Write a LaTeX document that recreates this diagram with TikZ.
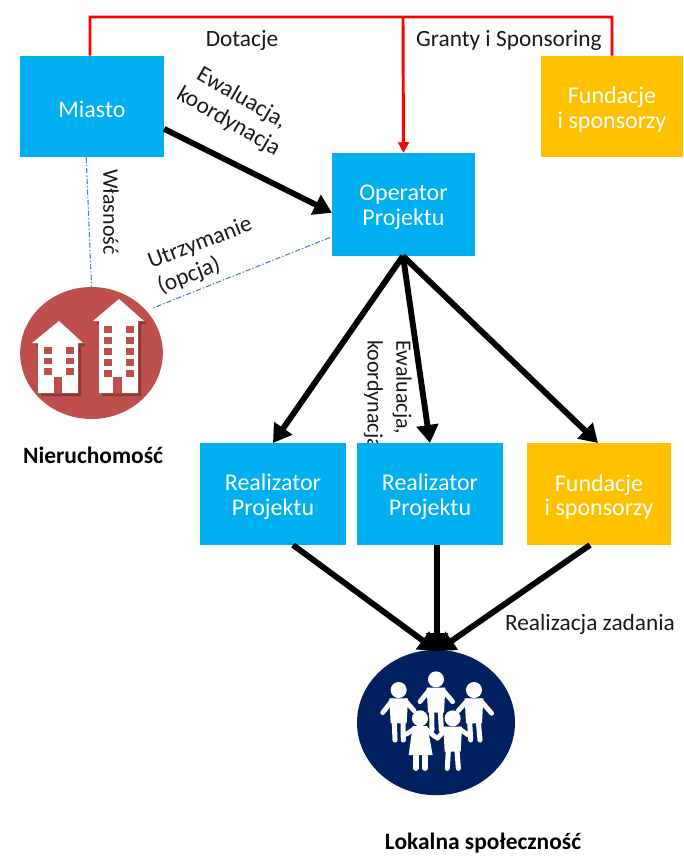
\documentclass[tikz,border=0pt]{standalone}
\usepackage{fontspec}
\setmainfont{Carlito}
\usetikzlibrary{arrows.meta,calc,shapes.geometric}
\definecolor{cblue}{HTML}{00B0F0}
\definecolor{cgold}{HTML}{FFC000}
\definecolor{cred}{HTML}{BE4F4C}
\definecolor{cshadow}{HTML}{8E3734}
\definecolor{cnavy}{HTML}{002060}
\definecolor{cdash}{HTML}{4A7EBB}
\tikzset{
  x=0.75pt,y=-0.75pt,
  boxtext/.style={inner sep=0pt,align=center,text=white,font=\fontsize{18}{18.5}\selectfont,yshift=-2.25pt},
  boxbase/.style={inner sep=0pt},
  bluebox/.style={boxbase,fill=cblue},
  goldbox/.style={boxbase,fill=cgold},
  lbl/.style={font=\fontsize{17.5}{20}\selectfont,text=black!90,align=center,inner sep=0pt},
  bold/.style={font=\fontsize{17.6}{20}\selectfont\bfseries,text=black,inner sep=0pt},
  flow/.style={line width=4.4pt,black,-{Triangle[length=13.5pt,width=16pt]}},
  redl/.style={line width=2.2pt,red},
  redarr/.style={redl,-{Triangle[length=8pt,width=8pt]}},
  tie/.style={cdash,line width=0.8pt,dash pattern=on 4pt off 1.5pt on 1pt off 1.5pt},
  disc/.style={ellipse,inner sep=0pt},
}
\newcommand{\winrow}[2]{\fill[cred] (#1,#2) rectangle ++(8,6.5);}
\begin{document}
\begin{tikzpicture}
\path[use as bounding box] (0,0) rectangle (683,858);
% rotated label placed under the boxes, as its last letters are hidden by one
\node[lbl,font=\fontsize{16.5}{21.7}\selectfont,align=left,rotate=-90,anchor=north west] (lev2) at (412,340) {Ewaluacja,\\koordynacja};
% boxes
\node[bluebox,minimum width=108pt,minimum height=76pt,label={[boxtext]center:Miasto}] (miasto) at (92,106.5) {};
\node[goldbox,minimum width=106.5pt,minimum height=76pt,label={[boxtext]center:{Fundacje\\i sponsorzy}}] (fund1) at (612,106.5) {};
\node[bluebox,minimum width=107pt,minimum height=77pt,label={[boxtext]center:{Operator\\Projektu}}] (oper) at (403.5,204.5) {};
\node[bluebox,minimum width=109.5pt,minimum height=76.5pt,label={[boxtext]center:{Realizator\\Projektu}}] (real1) at (273,494) {};
\node[bluebox,minimum width=109.5pt,minimum height=76.5pt,label={[boxtext]center:{Realizator\\Projektu}}] (real2) at (430,494) {};
\node[goldbox,minimum width=108pt,minimum height=76.5pt,label={[boxtext]center:{Fundacje\\i sponsorzy}}] (fund2) at (599,494) {};
\node[disc,fill=cred,minimum width=107pt,minimum height=99pt] (nier) at (91.5,353) {};
\node[disc,fill=cnavy,minimum width=118.5pt,minimum height=109pt] (spol) at (436,722.5) {};
% buildings
\foreach \dx/\col in {3/cshadow,0/white}{
  \fill[\col] ([shift={(\dx,\dx)}]0,0) ++(32,343) -- ++(27,-22) -- ++(24,22) -- ++(-5,0) -- ++(0,50) -- ++(-40,0) -- ++(0,-50) -- cycle;
  \fill[\col] ([shift={(\dx,\dx)}]0,0) ++(93,321) -- ++(26,-22) -- ++(25,22) -- ++(-6,0) -- ++(0,72) -- ++(-39,0) -- ++(0,-72) -- cycle;
}
\foreach \wx in {44,66}{\foreach \wy in {347,357.5,368}{\winrow{\wx}{\wy}}}
\foreach \wx in {104,126}{\foreach \wy in {326,337,348,359,370}{\winrow{\wx}{\wy}}}
\fill[cred] (54,377) rectangle (62,393);
\fill[cred] (113,377) rectangle (122,393);
% people
\begin{scope}[x=0.25pt,y=-0.25pt,xshift=255pt,yshift=-465pt,white,line cap=round,line join=round]
  \foreach \hx/\hy/\ax/\ay/\bx/\by/\lx/\rx/\ly in {
    176/210/128/278/222/272/165/190/360,
    288/178/240/245/338/245/276/304/330,
    402/210/355/272/455/280/392/420/360,
    338/295/292/355/385/345/322/355/445}{
    \fill (\hx,\hy) circle (24);
    \fill ($(\hx,\hy)+(-28,25)$) -- ($(\hx,\hy)+(28,25)$) -- ($(\hx,\hy)+(24,100)$) -- ($(\hx,\hy)+(-24,100)$) -- cycle;
    \draw[line width=3.6pt] ($(\hx,\hy)+(-20,32)$) -- (\ax,\ay) ($(\hx,\hy)+(20,32)$) -- (\bx,\by);
    \draw[line width=3.8pt] ($(\hx,\hy)+(-13,95)$) -- (\lx,\ly) ($(\hx,\hy)+(13,95)$) -- (\rx,\ly);
  }
  \fill (240,295) circle (24);
  \fill (218,318) -- (262,318) -- (278,405) -- (206,405) -- cycle;
  \draw[line width=3.6pt] (225,325) -- (200,342) (255,325) -- (285,350);
  \draw[line width=3.8pt] (228,405) -- (228,445) (255,405) -- (255,445);
\end{scope}
% connector anchors
\coordinate (r0) at ($(miasto.north west)!0.486!(miasto.north east)$);
\coordinate (r1) at (90,17);
\coordinate (r2) at (612,17);
\coordinate (r3) at (403,17);
\coordinate (m1) at ($(miasto.north east)!0.72!(miasto.south east)$);
\coordinate (o1) at ($(oper.north west)!0.58!(oper.south west)$);
\coordinate (d1) at ($(miasto.south west)!0.46!(miasto.south east)$);
\coordinate (d2) at ($(oper.north west)!0.82!(oper.south west)+(-2,0)$);
\coordinate (d3) at (153,308);
\coordinate (ob) at (403,256);
\coordinate (t1) at (273,443);
\coordinate (t2) at (430,443);
\coordinate (t3) at (598,443);
\coordinate (s1) at (293,545);
\coordinate (s2) at (437,545);
\coordinate (s3) at (590,545);
\coordinate (st) at (437,651);
% red
\draw[redl] (r0) -- (r1) -- (r2) -- (fund1.north);
\draw[redarr] (r3) -- (oper.north);
% dash-dot
\draw[tie] (d1) -- (nier.north);
\draw[tie] (d2) -- (d3);
% flows
\draw[flow] (m1) -- (o1);
\draw[flow] (ob) -- (t1);
\draw[flow] (ob) -- (t2);
\draw[flow] (ob) -- (t3);
\draw[flow] (s1) -- (st);
\draw[flow] (s2) -- (st);
\draw[flow] (s3) -- (st);
% labels
\node[lbl] (ldot) at (242,40) {Dotacje};
\node[lbl] (lgra) at (509,40) {Granty i Sponsoring};
\node[lbl,rotate=-30] (lev1) at (235,110) {Ewaluacja,\\koordynacja};
\node[lbl,font=\fontsize{16.5}{20}\selectfont,rotate=-90] (lwl) at (111,212) {Własność};
\node[lbl,align=left,rotate=21] (lutr) at (205,256) {Utrzymanie\\(opcja)};
\node[lbl] (lrea) at (590,624) {Realizacja zadania};
\node[bold] (lnie) at (93,455) {Nieruchomość};
\node[bold] (llok) at (483,843) {Lokalna społeczność};
\end{tikzpicture}
\end{document}
